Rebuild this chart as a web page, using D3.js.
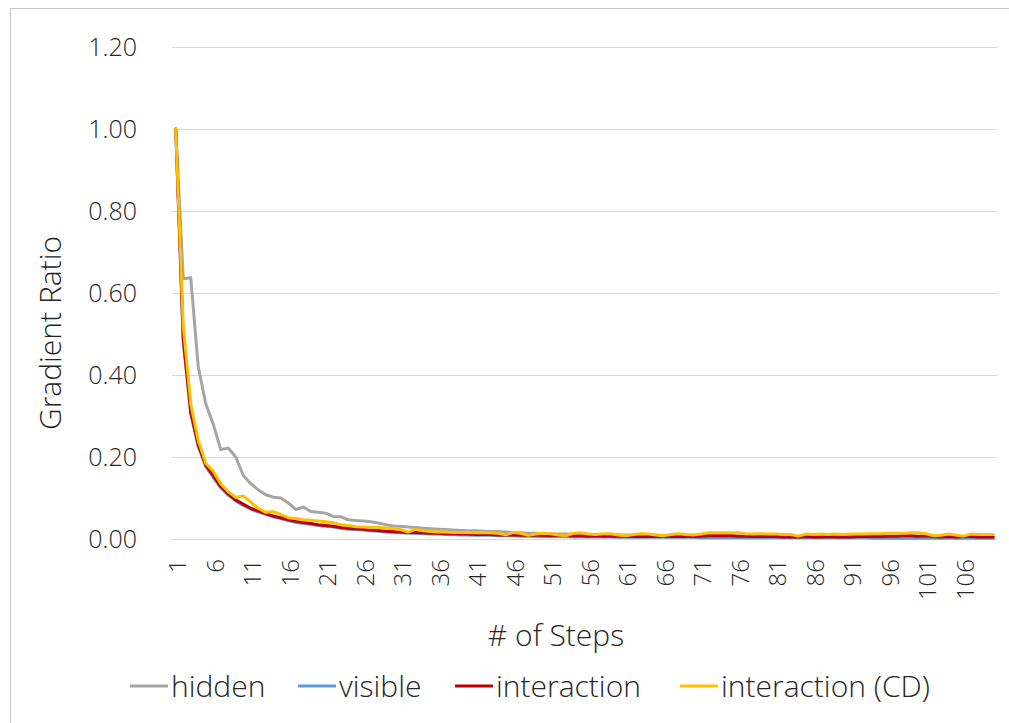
<!DOCTYPE html>
<html>
<head>
<meta charset="utf-8">
<script src="https://cdn.jsdelivr.net/npm/d3@7"></script>
<style>
  body { margin: 0; background: #fff; }
  svg text { font-family: "Open Sans", "Noto Sans", sans-serif; font-weight: 300; fill: #262626; }
</style>
</head>
<body>
<svg id="chart" width="1009" height="723"></svg>
<script>
// values, one per step (110 steps)
var hidden = [
  1.0, 0.635, 0.637, 0.42, 0.33, 0.28, 0.218, 0.222, 0.20, 0.155,
  0.135, 0.12, 0.108, 0.102, 0.10, 0.088, 0.072, 0.078, 0.067, 0.065,
  0.063, 0.055, 0.054, 0.047, 0.045, 0.044, 0.042, 0.039, 0.035, 0.032,
  0.031, 0.029, 0.028, 0.026, 0.025, 0.024, 0.023, 0.022, 0.021, 0.020,
  0.020, 0.019, 0.018, 0.018, 0.017, 0.016, 0.015, 0.014, 0.014, 0.013,
  0.013, 0.012, 0.012, 0.012, 0.011, 0.011, 0.011, 0.010, 0.010, 0.010,
  0.010, 0.009, 0.009, 0.009, 0.009, 0.009, 0.008, 0.008, 0.008, 0.008,
  0.008, 0.008, 0.008, 0.008, 0.008, 0.007, 0.007, 0.007, 0.007, 0.007,
  0.007, 0.007, 0.007, 0.007, 0.007, 0.007, 0.007, 0.006, 0.006, 0.006,
  0.006, 0.006, 0.006, 0.006, 0.006, 0.006, 0.006, 0.006, 0.006, 0.006,
  0.006, 0.006, 0.005, 0.005, 0.005, 0.005, 0.005, 0.005, 0.005, 0.005
];
var visible = [
  1.0, 0.48, 0.305, 0.225, 0.177, 0.15, 0.125, 0.107, 0.093, 0.082,
  0.073, 0.066, 0.06, 0.054, 0.05, 0.045, 0.041, 0.038, 0.036, 0.033,
  0.031, 0.029, 0.026, 0.024, 0.023, 0.022, 0.020, 0.019, 0.017, 0.016,
  0.015, 0.014, 0.014, 0.013, 0.012, 0.012, 0.011, 0.011, 0.010, 0.010,
  0.009, 0.009, 0.009, 0.008, 0.008, 0.008, 0.007, 0.007, 0.007, 0.006,
  0.006, 0.006, 0.006, 0.005, 0.005, 0.005, 0.005, 0.005, 0.005, 0.004,
  0.004, 0.004, 0.004, 0.004, 0.004, 0.004, 0.004, 0.004, 0.004, 0.004,
  0.003, 0.003, 0.003, 0.003, 0.003, 0.003, 0.003, 0.003, 0.003, 0.003,
  0.003, 0.003, 0.003, 0.003, 0.003, 0.003, 0.003, 0.003, 0.003, 0.003,
  0.003, 0.003, 0.003, 0.002, 0.002, 0.002, 0.002, 0.002, 0.002, 0.002,
  0.002, 0.002, 0.002, 0.002, 0.002, 0.002, 0.002, 0.002, 0.002, 0.002
];
var interaction = [
  1.0, 0.49, 0.31, 0.23, 0.18, 0.155, 0.128, 0.11, 0.095, 0.085,
  0.075, 0.068, 0.062, 0.056, 0.052, 0.047, 0.043, 0.040, 0.038, 0.035,
  0.033, 0.031, 0.028, 0.026, 0.025, 0.024, 0.022, 0.021, 0.019, 0.018,
  0.017, 0.016, 0.016, 0.015, 0.014, 0.014, 0.013, 0.013, 0.012, 0.012,
  0.011, 0.011, 0.011, 0.010, 0.010, 0.010, 0.009, 0.010, 0.009, 0.009,
  0.008, 0.009, 0.008, 0.008, 0.008, 0.007, 0.008, 0.007, 0.007, 0.007,
  0.006, 0.007, 0.006, 0.006, 0.006, 0.006, 0.007, 0.006, 0.006, 0.006,
  0.007, 0.008, 0.008, 0.008, 0.008, 0.007, 0.007, 0.006, 0.006, 0.006,
  0.006, 0.005, 0.005, 0.005, 0.006, 0.005, 0.005, 0.006, 0.005, 0.005,
  0.005, 0.006, 0.006, 0.006, 0.006, 0.007, 0.007, 0.008, 0.008, 0.007,
  0.008, 0.006, 0.005, 0.006, 0.005, 0.006, 0.006, 0.005, 0.005, 0.005
];
var interactionCD = [
  1.0, 0.52, 0.33, 0.24, 0.185, 0.165, 0.135, 0.115, 0.102, 0.105,
  0.09, 0.075, 0.065, 0.067, 0.06, 0.052, 0.05, 0.047, 0.046, 0.044,
  0.042, 0.04, 0.035, 0.033, 0.03, 0.029, 0.028, 0.028, 0.027, 0.025,
  0.023, 0.017, 0.024, 0.020, 0.018, 0.017, 0.017, 0.016, 0.016, 0.016,
  0.015, 0.016, 0.015, 0.014, 0.010, 0.016, 0.014, 0.009, 0.012, 0.014,
  0.013, 0.010, 0.008, 0.014, 0.015, 0.012, 0.011, 0.013, 0.013, 0.010,
  0.008, 0.011, 0.013, 0.012, 0.010, 0.008, 0.011, 0.013, 0.011, 0.010,
  0.012, 0.015, 0.015, 0.015, 0.015, 0.015, 0.013, 0.012, 0.013, 0.012,
  0.012, 0.011, 0.011, 0.007, 0.012, 0.011, 0.012, 0.011, 0.012, 0.011,
  0.012, 0.012, 0.012, 0.013, 0.013, 0.014, 0.014, 0.014, 0.015, 0.015,
  0.013, 0.008, 0.009, 0.012, 0.010, 0.007, 0.012, 0.011, 0.011, 0.011
];
var seriesNames = ["hidden", "visible", "interaction", "interaction (CD)"];
var seriesColors = ["#a5a5a5", "#5b9bd5", "#c00000", "#ffc000"];
var yTicks = [0, 0.2, 0.4, 0.6, 0.8, 1.0, 1.2];
var steps = d3.range(1, hidden.length + 1);

var svg = d3.select("#chart");

// chart frame (only top and left edges show in the picture)
svg.append("line").attr("x1", 10.5).attr("y1", 8.5).attr("x2", 1009).attr("y2", 8.5)
  .attr("stroke", "#c6c6c6").attr("stroke-width", 1);
svg.append("line").attr("x1", 10.5).attr("y1", 8.5).attr("x2", 10.5).attr("y2", 723)
  .attr("stroke", "#c6c6c6").attr("stroke-width", 1);

var x = d3.scaleBand().domain(steps).range([172, 997]).padding(0);
var y = d3.scaleLinear().domain([0, 1.2]).range([539, 47]);
function cx(d) { return x(d) + x.bandwidth() / 2; }

// gridlines
svg.append("g").selectAll("line")
  .data(yTicks)
  .enter().append("line")
    .attr("x1", 172).attr("x2", 997)
    .attr("y1", function(d) { return Math.round(y(d)) + 0.5; })
    .attr("y2", function(d) { return Math.round(y(d)) + 0.5; })
    .attr("stroke", "#d9d9d9").attr("stroke-width", 1);

// y tick labels
svg.append("g").selectAll("text")
  .data(yTicks)
  .enter().append("text")
    .attr("x", 137)
    .attr("y", function(d) { return y(d); })
    .attr("dy", "0.35em")
    .attr("text-anchor", "end")
    .style("font-size", "25px")
    .text(function(d) { return d3.format(".2f")(d); });

// x tick labels, every 5th step, rotated
var xLabels = steps.filter(function(d) { return (d - 1) % 5 === 0; });
svg.append("g").selectAll("text")
  .data(xLabels)
  .enter().append("text")
    .attr("transform", function(d) { return "translate(" + (cx(d) + 2) + ",559) rotate(-90)"; })
    .attr("dy", "0.35em")
    .attr("text-anchor", "end")
    .style("font-size", "24px")
    .text(function(d) { return d; });

// axis titles
svg.append("text")
  .attr("transform", "translate(50,333) rotate(-90)")
  .attr("dy", "0.35em")
  .attr("text-anchor", "middle")
  .style("font-size", "30px")
  .text("Gradient Ratio");

svg.append("text")
  .attr("x", 556).attr("y", 635)
  .attr("dy", "0.35em")
  .attr("text-anchor", "middle")
  .style("font-size", "30px")
  .text("# of Steps");

// lines
var line = d3.line()
  .x(function(d, i) { return cx(steps[i]); })
  .y(function(d) { return y(d); });

var allSeries = [hidden, visible, interaction, interactionCD];
svg.append("g").selectAll("path")
  .data(allSeries)
  .enter().append("path")
    .attr("d", line)
    .attr("fill", "none")
    .attr("stroke", function(d, i) { return seriesColors[i]; })
    .attr("stroke-width", 3)
    .attr("stroke-linejoin", "round")
    .attr("stroke-linecap", "round");

// legend
var legendX = [130, 298, 455, 680];
var legend = svg.append("g").selectAll("g")
  .data(seriesNames)
  .enter().append("g")
    .attr("transform", function(d, i) { return "translate(" + legendX[i] + ",686)"; });
legend.append("line")
  .attr("x1", 0).attr("x2", 38).attr("y1", 0).attr("y2", 0)
  .attr("stroke", function(d, i) { return seriesColors[i]; })
  .attr("stroke-width", 3);
legend.append("text")
  .attr("x", 41).attr("y", 0)
  .attr("dy", "0.35em")
  .style("font-size", "30px")
  .text(function(d) { return d; });
</script>
</body>
</html>
